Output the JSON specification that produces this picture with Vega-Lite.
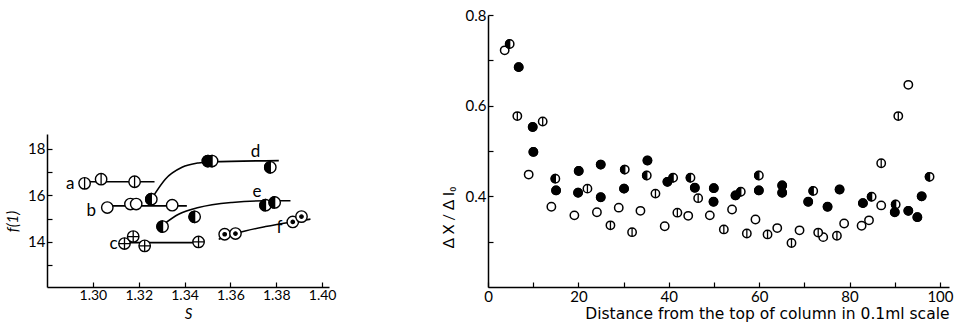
{
  "$schema": "https://vega.github.io/schema/vega-lite/v6.json",
  "padding": {"left": 5, "top": 8, "right": 4, "bottom": 2},
  "background": "white",
  "bounds": "flush",
  "spacing": 159,
  "config": {
    "view": {"stroke": null},
    "font": "Lato",
    "axis": {
      "grid": false,
      "labelOverlap": false,
      "labelFlush": false,
      "domainColor": "black",
      "domainWidth": 1.5,
      "tickColor": "black",
      "tickWidth": 1.2,
      "tickSize": -5,
      "labelColor": "black",
      "labelFont": "Lato",
      "labelFontSize": 14,
      "titleColor": "black",
      "titleFont": "Lato",
      "titleFontWeight": "normal",
      "titleFontSize": 15,
      "labelPadding": 7
    }
  },
  "datasets": {
    "leftPts": [
      {"series": "a", "type": "vbar", "S": 1.2964, "f": 16.52},
      {"series": "a", "type": "vbar", "S": 1.3036, "f": 16.70},
      {"series": "a", "type": "vbar", "S": 1.3182, "f": 16.59},
      {"series": "b", "type": "open", "S": 1.3063, "f": 15.48},
      {"series": "b", "type": "open", "S": 1.3164, "f": 15.63},
      {"series": "b", "type": "open", "S": 1.3189, "f": 15.63},
      {"series": "b", "type": "open", "S": 1.3346, "f": 15.58},
      {"series": "c", "type": "plus", "S": 1.3138, "f": 13.93},
      {"series": "c", "type": "plus", "S": 1.3176, "f": 14.23},
      {"series": "c", "type": "plus", "S": 1.3226, "f": 13.83},
      {"series": "c", "type": "plus", "S": 1.3461, "f": 14.00},
      {"series": "d", "type": "half", "S": 1.3255, "f": 15.84},
      {"series": "d", "type": "half", "S": 1.3502, "f": 17.48},
      {"series": "d", "type": "half", "S": 1.3520, "f": 17.48},
      {"series": "d", "type": "half", "S": 1.3774, "f": 17.21},
      {"series": "e", "type": "half", "S": 1.3304, "f": 14.66},
      {"series": "e", "type": "half", "S": 1.3444, "f": 15.08},
      {"series": "e", "type": "half", "S": 1.3753, "f": 15.58},
      {"series": "e", "type": "half", "S": 1.3793, "f": 15.70},
      {"series": "f", "type": "dot", "S": 1.3575, "f": 14.33},
      {"series": "f", "type": "dot", "S": 1.3622, "f": 14.36},
      {"series": "f", "type": "dot", "S": 1.3872, "f": 14.86},
      {"series": "f", "type": "dot", "S": 1.3910, "f": 15.09}
    ],
    "leftCurves": [
      {"series": "a", "S": 1.2955, "f": 16.59},
      {"series": "a", "S": 1.3269, "f": 16.59},
      {"series": "b", "S": 1.3060, "f": 15.55},
      {"series": "b", "S": 1.3410, "f": 15.55},
      {"series": "c", "S": 1.3140, "f": 13.97},
      {"series": "c", "S": 1.3470, "f": 13.97},
      {"series": "d", "S": 1.3265, "f": 15.99},
      {"series": "d", "S": 1.3316, "f": 16.70},
      {"series": "d", "S": 1.3389, "f": 17.21},
      {"series": "d", "S": 1.3461, "f": 17.40},
      {"series": "d", "S": 1.3520, "f": 17.45},
      {"series": "d", "S": 1.3811, "f": 17.50},
      {"series": "e", "S": 1.3309, "f": 14.76},
      {"series": "e", "S": 1.3374, "f": 15.19},
      {"series": "e", "S": 1.3461, "f": 15.48},
      {"series": "e", "S": 1.3607, "f": 15.70},
      {"series": "e", "S": 1.3753, "f": 15.77},
      {"series": "e", "S": 1.3862, "f": 15.77},
      {"series": "f", "S": 1.3549, "f": 14.12},
      {"series": "f", "S": 1.3636, "f": 14.40},
      {"series": "f", "S": 1.3753, "f": 14.66},
      {"series": "f", "S": 1.3869, "f": 14.86},
      {"series": "f", "S": 1.3949, "f": 14.98}
    ],
    "leftLabels": [
      {"label": "a", "S": 1.2901, "f": 16.49},
      {"label": "b", "S": 1.2993, "f": 15.34},
      {"label": "c", "S": 1.3090, "f": 13.93},
      {"label": "d", "S": 1.3709, "f": 17.88},
      {"label": "e", "S": 1.3716, "f": 16.13},
      {"label": "f", "S": 1.3814, "f": 14.58}
    ],
    "rightPts": [
      {"type": "open", "x": 3.69, "y": 0.722},
      {"type": "open", "x": 9.0, "y": 0.448},
      {"type": "open", "x": 14.02, "y": 0.377},
      {"type": "open", "x": 19.11, "y": 0.358},
      {"type": "open", "x": 24.1, "y": 0.365},
      {"type": "open", "x": 28.93, "y": 0.375},
      {"type": "open", "x": 33.73, "y": 0.368},
      {"type": "open", "x": 39.1, "y": 0.334},
      {"type": "open", "x": 44.3, "y": 0.357},
      {"type": "open", "x": 49.08, "y": 0.358},
      {"type": "open", "x": 54.0, "y": 0.371},
      {"type": "open", "x": 59.18, "y": 0.349},
      {"type": "open", "x": 64.0, "y": 0.330},
      {"type": "open", "x": 68.93, "y": 0.325},
      {"type": "open", "x": 74.17, "y": 0.310},
      {"type": "open", "x": 78.8, "y": 0.340},
      {"type": "open", "x": 82.66, "y": 0.335},
      {"type": "open", "x": 84.3, "y": 0.347},
      {"type": "open", "x": 87.0, "y": 0.380},
      {"type": "open", "x": 93.0, "y": 0.646},
      {"type": "vbar", "x": 6.49, "y": 0.577},
      {"type": "vbar", "x": 12.10, "y": 0.565},
      {"type": "vbar", "x": 22.0, "y": 0.417},
      {"type": "vbar", "x": 27.09, "y": 0.336},
      {"type": "vbar", "x": 31.88, "y": 0.321},
      {"type": "vbar", "x": 37.05, "y": 0.406},
      {"type": "vbar", "x": 41.9, "y": 0.364},
      {"type": "vbar", "x": 46.5, "y": 0.396},
      {"type": "vbar", "x": 52.18, "y": 0.327},
      {"type": "vbar", "x": 57.27, "y": 0.318},
      {"type": "vbar", "x": 61.85, "y": 0.316},
      {"type": "vbar", "x": 67.15, "y": 0.297},
      {"type": "vbar", "x": 73.06, "y": 0.320},
      {"type": "vbar", "x": 77.2, "y": 0.313},
      {"type": "vbar", "x": 87.0, "y": 0.473},
      {"type": "vbar", "x": 90.78, "y": 0.577},
      {"type": "half", "x": 4.80, "y": 0.736},
      {"type": "half", "x": 14.9, "y": 0.439},
      {"type": "half", "x": 30.26, "y": 0.459},
      {"type": "half", "x": 35.13, "y": 0.446},
      {"type": "half", "x": 40.96, "y": 0.441},
      {"type": "half", "x": 44.8, "y": 0.441},
      {"type": "half", "x": 55.93, "y": 0.410},
      {"type": "half", "x": 59.93, "y": 0.446},
      {"type": "half", "x": 71.96, "y": 0.412},
      {"type": "half", "x": 84.88, "y": 0.399},
      {"type": "half", "x": 90.2, "y": 0.382},
      {"type": "half", "x": 97.7, "y": 0.443},
      {"type": "filled", "x": 6.79, "y": 0.685},
      {"type": "filled", "x": 9.89, "y": 0.553},
      {"type": "filled", "x": 10.04, "y": 0.498},
      {"type": "filled", "x": 15.06, "y": 0.413},
      {"type": "filled", "x": 20.07, "y": 0.456},
      {"type": "filled", "x": 19.93, "y": 0.408},
      {"type": "filled", "x": 24.94, "y": 0.470},
      {"type": "filled", "x": 24.94, "y": 0.398},
      {"type": "filled", "x": 30.1, "y": 0.417},
      {"type": "filled", "x": 35.28, "y": 0.479},
      {"type": "filled", "x": 39.7, "y": 0.432},
      {"type": "filled", "x": 45.76, "y": 0.419},
      {"type": "filled", "x": 49.96, "y": 0.418},
      {"type": "filled", "x": 49.9, "y": 0.388},
      {"type": "filled", "x": 54.76, "y": 0.402},
      {"type": "filled", "x": 59.93, "y": 0.413},
      {"type": "filled", "x": 65.09, "y": 0.424},
      {"type": "filled", "x": 65.09, "y": 0.408},
      {"type": "filled", "x": 70.85, "y": 0.388},
      {"type": "filled", "x": 75.13, "y": 0.377},
      {"type": "filled", "x": 77.79, "y": 0.415},
      {"type": "filled", "x": 82.95, "y": 0.385},
      {"type": "filled", "x": 90.0, "y": 0.365},
      {"type": "filled", "x": 93.0, "y": 0.368},
      {"type": "filled", "x": 95.0, "y": 0.354},
      {"type": "filled", "x": 95.95, "y": 0.400}
    ]
  },
  "hconcat": [
    {
      "width": 282,
      "height": 272,
      "layer": [
        {
          "data": {"name": "leftCurves"},
          "mark": {"type": "line", "color": "black", "strokeWidth": 1.6, "interpolate": "monotone"},
          "encoding": {
            "x": {"field": "S", "type": "quantitative", "scale": {"domain": [1.28, 1.403], "nice": false, "zero": false},
              "axis": {"title": "S", "titleFontStyle": "italic", "values": [1.3, 1.32, 1.34, 1.36, 1.38, 1.4], "format": ".2f",
                "labelFontSize": 14, "labelColor": "black", "labelOpacity": 1, "labelPadding": 6, "titlePadding": 4}},
            "y": {"field": "f", "type": "quantitative", "scale": {"domain": [12.06, 18.645], "range": [272, 119], "nice": false, "zero": false},
              "axis": {"title": "f(1)", "titleFontStyle": "italic", "values": [13, 14, 15, 16, 17, 18], "labelExpr": "datum.value % 2 == 0 ? datum.label : ''", "labelFontSize": 15, "titleX": -27, "titleY": 206}},
            "detail": {"field": "series"}
          }
        },
        {
          "data": {"name": "leftPts"},
          "mark": {"type": "point", "shape": "circle", "fill": "white", "stroke": "black", "strokeWidth": 1.4, "opacity": 1, "size": 130},
          "encoding": {
            "x": {"field": "S", "type": "quantitative"},
            "y": {"field": "f", "type": "quantitative"}
          }
        },
        {
          "data": {"name": "leftPts"},
          "mark": {"type": "point", "fill": "black", "stroke": "black", "strokeWidth": 1.3, "opacity": 1, "size": 130},
          "encoding": {
            "x": {"field": "S", "type": "quantitative"},
            "y": {"field": "f", "type": "quantitative"},
            "shape": {"field": "type", "type": "nominal", "legend": null,
              "scale": {"domain": ["open", "vbar", "half", "filled", "plus", "dot"],
                "range": ["M0,0", "M0,-1L0,1", "M0,-1A1,1,0,0,0,0,1Z", "M-1,0A1,1,0,1,0,1,0A1,1,0,1,0,-1,0Z", "M0,-1L0,1M-1,0L1,0", "M-0.3,0A0.3,0.3,0,1,0,0.3,0A0.3,0.3,0,1,0,-0.3,0Z"]}}
          }
        },
        {
          "data": {"name": "leftLabels"},
          "mark": {"type": "text", "fontSize": 17, "font": "Lato", "color": "black"},
          "encoding": {
            "x": {"field": "S", "type": "quantitative"},
            "y": {"field": "f", "type": "quantitative"},
            "text": {"field": "label"}
          }
        }
      ]
    },
    {
      "width": 461,
      "height": 272,
      "layer": [
        {
          "data": {"name": "rightPts"},
          "mark": {"type": "point", "shape": "circle", "fill": "white", "stroke": "black", "strokeWidth": 1.5, "opacity": 1, "size": 70},
          "encoding": {
            "x": {"field": "x", "type": "quantitative", "scale": {"domain": [0, 102], "nice": false},
              "axis": {"title": "Distance from the top of column in 0.1ml scale", "titleFont": "DejaVu Sans", "titleFontSize": 15.5, "titleAnchor": "end", "values": [0, 10, 20, 30, 40, 50, 60, 70, 80, 90, 100],
                "labelExpr": "datum.value % 20 == 0 ? datum.label : ''", "labelFontSize": 15, "titlePadding": 2}},
            "y": {"field": "y", "type": "quantitative", "scale": {"domain": [0.2, 0.8], "nice": false, "zero": false},
              "axis": {"title": "Δ X / Δ I₀", "values": [0.3, 0.4, 0.5, 0.6, 0.7, 0.8], "format": ".1f",
                "labelExpr": "indexof(['0.4','0.6','0.8'], datum.label) >= 0 ? datum.label : ''", "labelFontSize": 15, "titleX": -32, "titleY": 202}}
          }
        },
        {
          "data": {"name": "rightPts"},
          "mark": {"type": "point", "fill": "black", "stroke": "black", "strokeWidth": 1.3, "opacity": 1, "size": 70},
          "encoding": {
            "x": {"field": "x", "type": "quantitative"},
            "y": {"field": "y", "type": "quantitative"},
            "shape": {"field": "type", "type": "nominal", "legend": null,
              "scale": {"domain": ["open", "vbar", "half", "filled", "plus", "dot"],
                "range": ["M0,0", "M0,-1L0,1", "M0,-1A1,1,0,0,0,0,1Z", "M-1,0A1,1,0,1,0,1,0A1,1,0,1,0,-1,0Z", "M0,-1L0,1M-1,0L1,0", "M-0.3,0A0.3,0.3,0,1,0,0.3,0A0.3,0.3,0,1,0,-0.3,0Z"]}}
          }
        }
      ]
    }
  ],
  "resolve": {"scale": {"shape": "independent"}}
}
